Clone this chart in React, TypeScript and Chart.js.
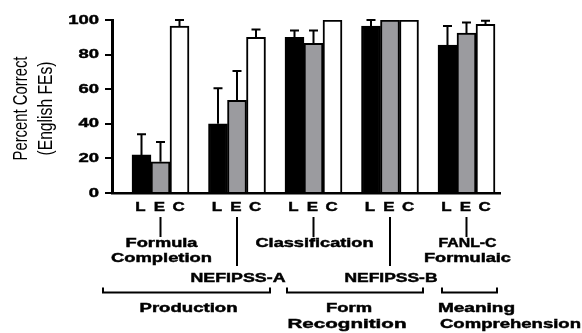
import React, { useEffect, useRef } from 'react';
import { Chart, registerables } from 'chart.js';

Chart.register(...registerables);

const categories = ['Formula Completion', 'NEFIPSS-A', 'Classification', 'NEFIPSS-B', 'FANL-C Formulaic'];
const groupLetters = ['L', 'E', 'C'];
const seriesL = [22, 40, 90, 96.5, 85.5];
const seriesE = [18, 53.5, 86.5, 100, 92.5];
const seriesC = [96.5, 90, 100, 100, 97.5];
const errL = [12, 20.5, 4, 3.5, 11];
const errE = [11.5, 17, 7.5, 0, 6];
const errC = [3.5, 4.5, 0, 0, 2];
const yTicks = [0, 20, 40, 60, 80, 100];
const yTitle = ['Percent Correct', '(English FEs)'];
const taskLabels = [['Formula', 'Completion'], ['NEFIPSS-A'], ['Classification'], ['NEFIPSS-B'], ['FANL-C', 'Formulaic']];
const domainLabels = [['Production'], ['Form', 'Recognition'], ['Meaning', 'Comprehension']];
const domainGroups = [[0, 1], [2, 3], [4, 4]];

const FONT = "'Liberation Sans', Arial, sans-serif";

function drawText(
  ctx: CanvasRenderingContext2D,
  text: string,
  x: number,
  y: number,
  size: number,
  bold: boolean,
  targetW: number | null,
  align: CanvasTextAlign = 'center',
  sx0 = 1.45,
  sy = 1
) {
  ctx.save();
  ctx.font = `${bold ? 'bold ' : ''}${size}px ${FONT}`;
  const w = ctx.measureText(text).width;
  const sx = targetW ? targetW / w : sx0;
  ctx.translate(x, y);
  ctx.scale(sx, sy);
  ctx.textAlign = align;
  ctx.textBaseline = 'middle';
  ctx.fillStyle = '#000';
  ctx.fillText(text, 0, 0);
  if (bold) {
    ctx.strokeStyle = '#000';
    ctx.lineWidth = 0.45;
    ctx.strokeText(text, 0, 0);
  }
  ctx.restore();
}

const errors = [errL, errE, errC];

const annotationPlugin = {
  id: 'annotations',
  afterDatasetsDraw(chart: any) {
    const ctx: CanvasRenderingContext2D = chart.ctx;
    const yScale = chart.scales.y;
    ctx.save();
    ctx.strokeStyle = '#000';
    ctx.lineWidth = 2;
    chart.data.datasets.forEach((ds: any, di: number) => {
      const meta = chart.getDatasetMeta(di);
      meta.data.forEach((el: any, i: number) => {
        const e = errors[di][i];
        if (!e) return;
        const top = yScale.getPixelForValue(ds.data[i].y + e);
        ctx.beginPath();
        ctx.moveTo(el.x, el.y);
        ctx.lineTo(el.x, top);
        ctx.moveTo(el.x - 4.5, top);
        ctx.lineTo(el.x + 4.5, top);
        ctx.stroke();
      });
    });
    ctx.restore();
  },
  afterDraw(chart: any) {
    const ctx: CanvasRenderingContext2D = chart.ctx;
    const yScale = chart.scales.y;
    const xScale = chart.scales.x;
    const area = chart.chartArea;

    // y tick labels
    yTicks.forEach((v) => {
      drawText(ctx, String(v), area.left - 13, yScale.getPixelForValue(v), 13, true, null, 'right', 1.42);
    });

    // y title
    const midY = (area.top + area.bottom) / 2;
    const titleX = [21, 46];
    const titleW = [104, 94];
    yTitle.forEach((t, i) => {
      ctx.save();
      ctx.translate(titleX[i], midY + 2);
      ctx.rotate(-Math.PI / 2);
      drawText(ctx, t, 0, 0, 14, false, titleW[i], 'center', 1, 1.45);
      ctx.restore();
    });

    // L E C letters under each bar
    chart.data.datasets.forEach((ds: any, di: number) => {
      const meta = chart.getDatasetMeta(di);
      meta.data.forEach((el: any) => {
        drawText(ctx, groupLetters[di], el.x - 1, 207, 13, true, null, 'center', 1.3);
      });
    });

    // task labels with connectors
    const lineWidths = [[72, 101], [95], [118], [93], [58, 87]];
    ctx.save();
    ctx.strokeStyle = '#000';
    ctx.lineWidth = 2;
    categories.forEach((c, i) => {
      const cx = xScale.getPixelForValue(i);
      const long = taskLabels[i].length === 1 && i % 2 === 1;
      ctx.beginPath();
      ctx.moveTo(cx, 217);
      ctx.lineTo(cx, long ? 266 : 237);
      ctx.stroke();
      const lines = taskLabels[i];
      lines.forEach((t, li) => {
        const y = long ? 279 : 244 + li * 14.5;
        drawText(ctx, t, cx + 1, y, 12.5, true, lineWidths[i][li], 'center');
      });
    });
    ctx.restore();

    // domain brackets
    const bracketOffsets = [[-57.5, 33], [-26.5, 33], [-24.5, 30.5]];
    const domainW = [[98], [46, 119], [77, 141]];
    ctx.save();
    ctx.strokeStyle = '#000';
    ctx.lineWidth = 2;
    domainGroups.forEach((g, i) => {
      const x0 = xScale.getPixelForValue(g[0]) + bracketOffsets[i][0];
      const x1 = xScale.getPixelForValue(g[1]) + bracketOffsets[i][1];
      ctx.beginPath();
      ctx.moveTo(x0, 287.5);
      ctx.lineTo(x0, 292.5);
      ctx.lineTo(x1, 292.5);
      ctx.lineTo(x1, 287.5);
      ctx.stroke();
      const lines = domainLabels[i];
      lines.forEach((t, li) => {
        const y = 309 + li * 16;
        if (i === 2) {
          drawText(ctx, t, x0 - 4 + li * 2, y, 12.5, true, domainW[i][li], 'left');
        } else {
          const cx = (x0 + x1) / 2 + (i === 0 ? 2 : -6 - li * 2);
          drawText(ctx, t, cx, y, 12.5, true, domainW[i][li], 'center');
        }
      });
    });
    ctx.restore();
  },
};

export default function App() {
  const ref = useRef<HTMLCanvasElement>(null);
  useEffect(() => {
    if (!ref.current) return;
    const toPts = (arr: number[]) => arr.map((v, i) => ({ x: i, y: v }));
    const chart = new Chart(ref.current, {
      type: 'bar',
      data: {
        datasets: [
          { label: 'L', data: toPts(seriesL), backgroundColor: '#000000', borderColor: '#000', borderWidth: 2 },
          { label: 'E', data: toPts(seriesE), backgroundColor: '#9b9b9f', borderColor: '#000', borderWidth: 2 },
          { label: 'C', data: toPts(seriesC), backgroundColor: '#ffffff', borderColor: '#000', borderWidth: 2 },
        ] as any,
      },
      options: {
        responsive: false,
        animation: false,
        events: [],
        layout: { padding: { left: 105, top: 20, right: 82, bottom: 140 } },
        datasets: { bar: { barThickness: 19, grouped: true } } as any,
        plugins: { legend: { display: false }, tooltip: { enabled: false } },
        scales: {
          x: {
            type: 'linear',
            offset: false,
            min: -0.634,
            max: 4.438,
            grid: { display: false, drawTicks: false, offset: false },
            ticks: { display: false },
            border: { display: true, color: '#000', width: 2.5 },
          },
          y: {
            min: 0,
            max: 100,
            ticks: { display: false, stepSize: 20 },
            grid: { display: true, drawOnChartArea: false, drawTicks: true, tickLength: 7, color: '#000', lineWidth: 2 },
            border: { display: true, color: '#000', width: 3 },
          },
        },
      },
      plugins: [annotationPlugin],
    });
    return () => chart.destroy();
  }, []);
  return <canvas ref={ref} width={582} height={333} style={{ position: 'fixed', left: 0, top: 0, background: '#fff' }} />;
}
